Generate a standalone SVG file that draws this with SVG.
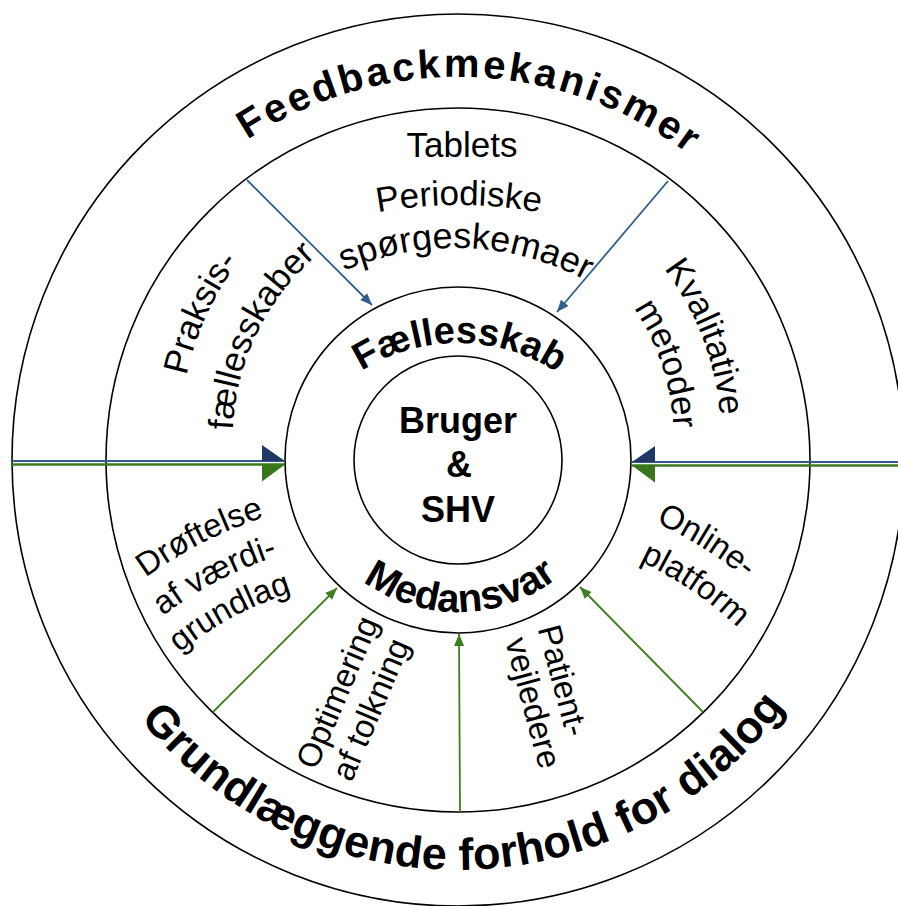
<svg xmlns="http://www.w3.org/2000/svg" width="898" height="906" viewBox="0 0 898 906">
<style>
.c{fill:none;stroke:#000;stroke-width:1.6}
.t{font-family:"Liberation Sans",Arial,sans-serif;fill:#000}
.b{font-weight:bold}
.s35{font-size:35px}
.s33{font-size:33px}
.bl{stroke:#2E5F8F;stroke-width:1.8;fill:none}
.gr{stroke:#3F7F1F;stroke-width:1.8;fill:none}
.hbl{stroke:#34598C;stroke-width:2.2;fill:none}
.hgr{stroke:#3C7A1C;stroke-width:2.6;fill:none}
</style>
<defs>
<marker id="ab" viewBox="0 0 12 10" refX="12" refY="5" markerWidth="12" markerHeight="10" markerUnits="userSpaceOnUse" orient="auto"><path d="M0,0 L12,5 L0,10 z" fill="#2E5F8F"/></marker>
<marker id="ag" viewBox="0 0 12 10" refX="12" refY="5" markerWidth="12" markerHeight="10" markerUnits="userSpaceOnUse" orient="auto"><path d="M0,0 L12,5 L0,10 z" fill="#3F7F1F"/></marker>
<marker id="bNeg" viewBox="0 0 23 16" refX="23" refY="16" markerWidth="23" markerHeight="16" markerUnits="userSpaceOnUse" orient="auto"><path d="M0,0 L23,16 L0,16 z" fill="#1F3864"/></marker>
<marker id="bPos" viewBox="0 0 23 16" refX="23" refY="0" markerWidth="23" markerHeight="16" markerUnits="userSpaceOnUse" orient="auto"><path d="M0,0 L23,0 L0,16 z" fill="#1F3864"/></marker>
<marker id="gNeg" viewBox="0 0 23 17" refX="23" refY="17" markerWidth="23" markerHeight="17" markerUnits="userSpaceOnUse" orient="auto"><path d="M0,0 L23,17 L0,17 z" fill="#38761D"/></marker>
<marker id="gPos" viewBox="0 0 23 17" refX="23" refY="0" markerWidth="23" markerHeight="17" markerUnits="userSpaceOnUse" orient="auto"><path d="M0,0 L23,0 L0,17 z" fill="#38761D"/></marker>
<path id="pTop" d="M75,460 A383,383 0 0 1 841,460"/>
<path id="pBot" d="M48,460 A410,410 0 0 0 868,460"/>
<path id="pFael" d="M278,523 A180,180 0 0 1 638,523"/>
<path id="pMed" d="M296,450 A162,162 0 0 0 620,450"/>
<path id="pPer" d="M9,655 A450,450 0 0 1 909,655"/>
<path id="pSpo" d="M175,528 A280,280 0 0 1 735,528"/>
<path id="pPr1" d="M326,689.9 A292,292 0 0 1 618,184.1"/>
<path id="pPr2" d="M350.5,647.4 A243,243 0 0 1 593.5,226.6"/>
<path id="pKv1" d="M305.5,197.1 A277,277 0 0 1 582.5,676.9"/>
<path id="pKv2" d="M328,236.1 A232,232 0 0 1 560,637.9"/>
<path id="pDr1" d="M-24.2,912.5 A415,415 0 0 1 805.8,912.5"/>
<path id="pDr2" d="M16.8,912.5 A374,374 0 0 1 764.8,912.5"/>
<path id="pDr3" d="M55.8,912.5 A335,335 0 0 1 725.8,912.5"/>
<path id="pOn1" d="M67.1,899.2 A415,415 0 0 1 897.1,899.2"/>
<path id="pOn2" d="M109.1,899.2 A373,373 0 0 1 855.1,899.2"/>
</defs>
<rect width="898" height="906" fill="#fff"/>

<g id="ring-outer">
<circle class="c" cx="458" cy="460" r="446"/>
<text class="t b" font-size="40" letter-spacing="3"><textPath href="#pTop" startOffset="51.1%" text-anchor="middle">Feedbackmekanismer</textPath></text>
<text class="t b" font-size="45" letter-spacing="0.3"><textPath href="#pBot" startOffset="50.6%" text-anchor="middle">Grundlæggende forhold for dialog</textPath></text>
</g>

<g id="ring-middle">
<circle class="c" cx="458" cy="460" r="352"/>
</g>

<g id="ring-inner">
<circle class="c" cx="458" cy="460" r="173"/>
<text class="t b" font-size="38"><textPath href="#pFael" startOffset="50.3%" text-anchor="middle">Fællesskab</textPath></text>
<text class="t b" font-size="40"><textPath href="#pMed" startOffset="50.6%" text-anchor="middle">Medansvar</textPath></text>
</g>

<g id="core">
<circle class="c" cx="458" cy="460" r="104"/>
<text class="t b" font-size="36" text-anchor="middle" x="458" y="433">Bruger</text>
<text class="t b" font-size="36" text-anchor="middle" x="459" y="477">&amp;</text>
<text class="t b" font-size="36" text-anchor="middle" x="458" y="522">SHV</text>
</g>

<g id="node-tablets">
<text class="t s35" text-anchor="middle" x="462" y="157">Tablets</text>
<text class="t s35"><textPath href="#pPer" startOffset="50%" text-anchor="middle">Periodiske</textPath></text>
<text class="t" font-size="36"><textPath href="#pSpo" startOffset="51.25%" text-anchor="middle">spørgeskemaer</textPath></text>
</g>

<g id="node-praksis">
<text class="t s35"><textPath href="#pPr1" startOffset="430.6" text-anchor="middle">Praksis-</textPath></text>
<text class="t s35"><textPath href="#pPr2" startOffset="358.4" text-anchor="middle">fællesskaber</textPath></text>
</g>

<g id="node-kvalitative">
<text class="t s35"><textPath href="#pKv1" startOffset="478.6" text-anchor="middle">Kvalitative</textPath></text>
<text class="t s35"><textPath href="#pKv2" startOffset="409" text-anchor="middle">metoder</textPath></text>
</g>

<g id="node-droeftelse">
<text class="t s33"><textPath href="#pDr1" startOffset="456.3" text-anchor="middle">Drøftelse</textPath></text>
<text class="t s33"><textPath href="#pDr2" startOffset="407.3" text-anchor="middle">af værdi-</textPath></text>
<text class="t s33"><textPath href="#pDr3" startOffset="361.3" text-anchor="middle">grundlag</textPath></text>
</g>

<g id="node-optimering">
<text class="t s33" transform="translate(316,771) rotate(-67)">Optimering</text>
<text class="t s33" transform="translate(351.5,783) rotate(-67)">af tolkning</text>
</g>

<g id="node-patient">
<text class="t s33" transform="translate(537.5,628.5) rotate(75)">Patient-</text>
<text class="t s33" transform="translate(505,641) rotate(75)">vejledere</text>
</g>

<g id="node-online">
<text class="t s33"><textPath href="#pOn1" startOffset="883.7" text-anchor="middle">Online-</textPath></text>
<text class="t s33"><textPath href="#pOn2" startOffset="807.9" text-anchor="middle">platform</textPath></text>
</g>

<g id="connectors">
<path class="bl" d="M247,180 L372,305" marker-end="url(#ab)"/>
<path class="bl" d="M668,181 L557,312" marker-end="url(#ab)"/>
<path class="gr" d="M213,712 L337,588" marker-end="url(#ag)"/>
<path class="gr" d="M460,812 L459,634" marker-end="url(#ag)"/>
<path class="gr" d="M703,712 L580,587" marker-end="url(#ag)"/>
<path class="hbl" d="M12,461 H285" marker-end="url(#bNeg)"/>
<path class="hgr" d="M12,464.5 H285" marker-end="url(#gPos)"/>
<path class="hbl" d="M898,462 H632" marker-end="url(#bPos)"/>
<path class="hgr" d="M898,465.5 H632" marker-end="url(#gNeg)"/>
</g>
</svg>
